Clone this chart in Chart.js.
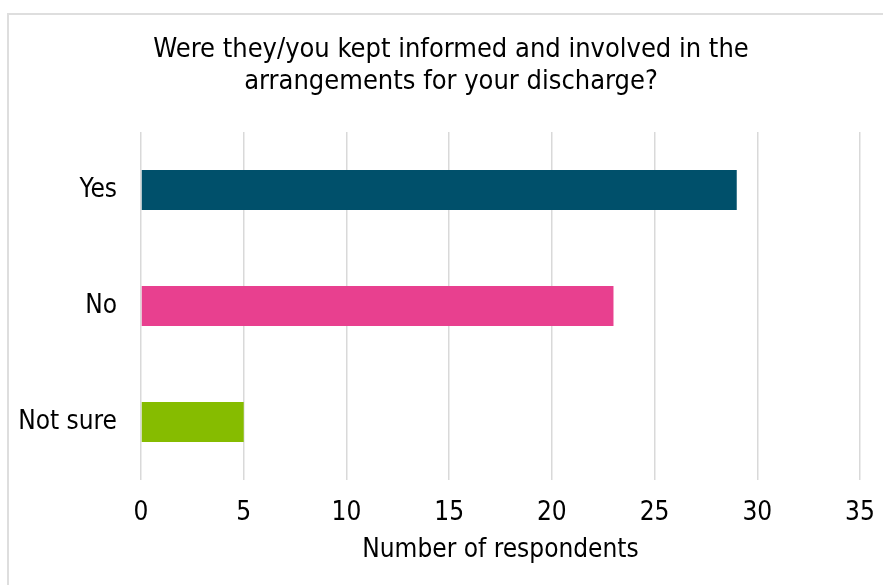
<!DOCTYPE html>
<html>
<head>
<meta charset="utf-8">
<title>Discharge arrangements</title>
<script src="https://cdn.jsdelivr.net/npm/chart.js@4/dist/chart.umd.min.js"></script>
<style>
  html, body { margin: 0; padding: 0; background: #fff; }
  #wrap { position: relative; width: 883px; height: 585px; overflow: hidden; }
  #frame {
    position: absolute; left: 7px; top: 13px; width: 920px; height: 620px;
    border: 2px solid #dedede; box-sizing: border-box;
  }
  #chart { position: absolute; left: 0; top: 0; }
</style>
</head>
<body>
<div id="wrap">
  <div id="frame"></div>
  <canvas id="chart" width="883" height="585"></canvas>
</div>
<script>
(function () {
  "use strict";

  var TITLE = ["Were they/you kept informed and involved in the", "arrangements for your discharge?"];
  var AXIS_TITLE = "Number of respondents";
  var CATEGORIES = ["Yes", "No", "Not sure"];
  var RESPONSES = [29, 23, 5];
  var BAR_COLORS = ["#00506b", "#e8408f", "#86bc00"];
  var X_MIN = 0;
  var X_MAX = 35;
  var X_STEP = 5;

  var FONT = "'DejaVu Sans Condensed', 'Liberation Sans Narrow', sans-serif";
  var FONT_SIZE = 26;

  Chart.defaults.font.family = FONT;
  Chart.defaults.color = "#000";

  // title sits a little right of the canvas centre, so draw it by hand
  var titlePlugin = {
    id: "headTitle",
    afterDraw: function (chart) {
      var c = chart.ctx;
      c.save();
      c.font = "27px " + FONT;
      c.fillStyle = "#000";
      c.textAlign = "center";
      c.textBaseline = "middle";
      TITLE.forEach(function (line, i) {
        c.fillText(line, 451, 50 + i * 32);
      });
      c.restore();
    },
  };

  var ctx = document.getElementById("chart").getContext("2d");

  new Chart(ctx, {
    type: "bar",
    data: {
      labels: CATEGORIES,
      datasets: [
        {
          data: RESPONSES,
          backgroundColor: BAR_COLORS,
          borderWidth: 0,
          barPercentage: 0.69,
          categoryPercentage: 0.5,
        },
      ],
    },
    plugins: [titlePlugin],
    options: {
      indexAxis: "y",
      responsive: false,
      animation: false,
      layout: { padding: { left: 0, right: 23, top: 132, bottom: 19 } },
      scales: {
        x: {
          min: X_MIN,
          max: X_MAX,
          ticks: {
            stepSize: X_STEP,
            padding: 18,
            font: { size: FONT_SIZE },
            color: "#000",
          },
          grid: { color: "#d9d9d9", lineWidth: 1.5, drawTicks: false },
          border: { display: false },
          title: {
            display: true,
            text: AXIS_TITLE,
            font: { size: FONT_SIZE },
            color: "#000",
            padding: { top: 4, bottom: 0 },
          },
          afterFit: function (scale) {
            scale.height = 86;
            scale.paddingLeft = 0;
            scale.paddingRight = 0;
          },
        },
        y: {
          ticks: { padding: 24, font: { size: FONT_SIZE }, color: "#000" },
          grid: { display: false, drawTicks: false },
          border: { display: false },
          afterFit: function (scale) {
            scale.width = 141;
          },
        },
      },
      plugins: {
        legend: { display: false },
        tooltip: { enabled: false },
        title: { display: false },
      },
    },
  });
})();
</script>
</body>
</html>
